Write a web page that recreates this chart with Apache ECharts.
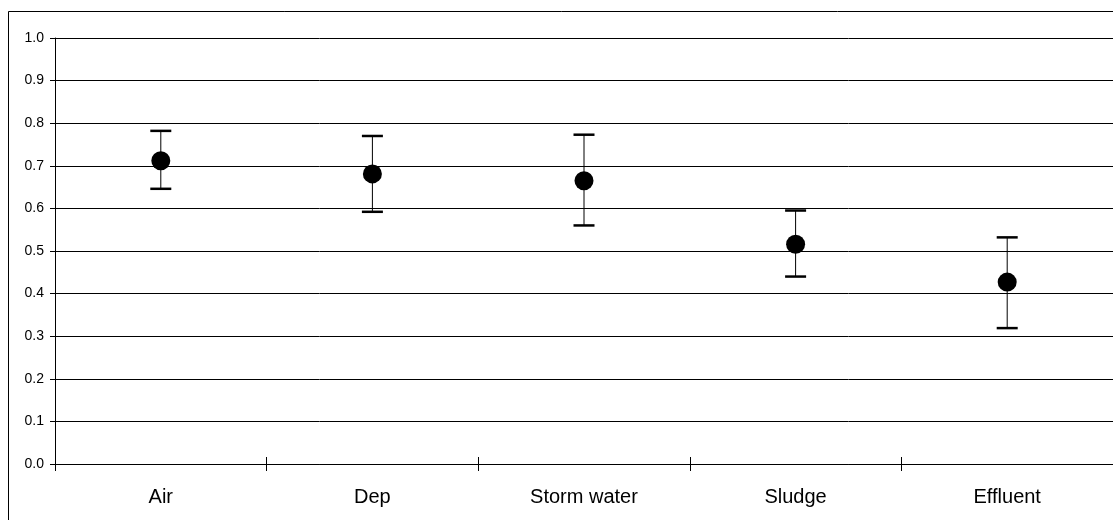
<!DOCTYPE html>
<html>
<head>
<meta charset="utf-8">
<script src="https://cdn.jsdelivr.net/npm/echarts@6/dist/echarts.min.js"></script>
<style>html,body{margin:0;padding:0;background:#fff;}#c{width:1113px;height:520px;}</style>
</head>
<body>
<div id="c"></div>
<script>
var categories = ['Air', 'Dep', 'Storm water', 'Sludge', 'Effluent'];
var means = [0.712, 0.681, 0.665, 0.516, 0.427];
var upper = [0.782, 0.770, 0.773, 0.595, 0.532];
var lower = [0.646, 0.592, 0.560, 0.440, 0.319];
var yTicks = [0, 0.1, 0.2, 0.3, 0.4, 0.5, 0.6, 0.7, 0.8, 0.9, 1.0];

var errData = categories.map(function (c, i) { return [i, lower[i], upper[i]]; });
var chart = echarts.init(document.getElementById('c'), null, {renderer: 'canvas'});
var font = '"Liberation Sans", Arial, sans-serif';
chart.setOption({
  animation: false,
  backgroundColor: '#fff',
  graphic: [{
    type: 'rect', shape: {x: 8.5, y: 11.5, width: 1200, height: 600},
    style: {fill: 'none', stroke: '#000', lineWidth: 1}, z: 100
  }],
  grid: {left: 55, right: 0, top: 38, bottom: 56},
  xAxis: [{
    type: 'category', data: categories, boundaryGap: true,
    axisLine: {lineStyle: {color: '#000', width: 1}},
    axisTick: {show: true, length: 7, lineStyle: {color: '#000'}},
    axisLabel: {color: '#000', fontSize: 20, fontFamily: font, margin: 23},
    splitLine: {show: false}
  }, {
    type: 'category', data: categories, position: 'bottom', boundaryGap: true,
    axisLine: {show: false},
    axisTick: {show: true, inside: true, length: 7, lineStyle: {color: '#000'}},
    axisLabel: {show: false}
  }],
  yAxis: {
    type: 'value', min: 0, max: 1, interval: 0.1,
    axisLine: {show: true, lineStyle: {color: '#000', width: 1}},
    axisTick: {show: true, length: 5, lineStyle: {color: '#000'}},
    axisLabel: {color: '#000', fontSize: 14, fontFamily: font, margin: 11,
      formatter: function (v) { return v.toFixed(1); }},
    splitLine: {show: true, lineStyle: {color: '#000', width: 1}}
  },
  series: [{
    type: 'custom',
    data: errData,
    z: 3,
    renderItem: function (params, api) {
      var x = api.value(0);
      var lo = api.coord([x, api.value(1)]);
      var hi = api.coord([x, api.value(2)]);
      var hw = 10.5;
      return {
        type: 'group',
        children: [
          {type: 'line', shape: {x1: lo[0], y1: lo[1], x2: hi[0], y2: hi[1]}, style: {stroke: '#000', lineWidth: 1}},
          {type: 'line', shape: {x1: lo[0] - hw, y1: lo[1], x2: lo[0] + hw, y2: lo[1]}, style: {stroke: '#000', lineWidth: 2.5}},
          {type: 'line', shape: {x1: hi[0] - hw, y1: hi[1], x2: hi[0] + hw, y2: hi[1]}, style: {stroke: '#000', lineWidth: 2.5}}
        ]
      };
    }
  }, {
    type: 'scatter',
    data: means,
    symbol: 'circle',
    symbolSize: 19,
    itemStyle: {color: '#000', opacity: 1},
    z: 5
  }]
});
</script>
</body>
</html>
